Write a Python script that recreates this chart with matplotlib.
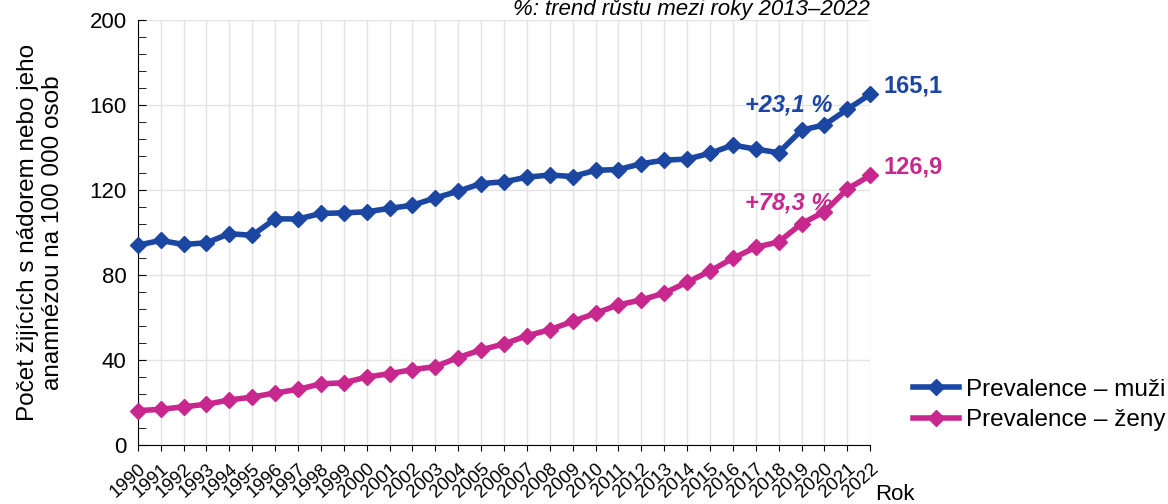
import matplotlib
matplotlib.use("Agg")
import matplotlib.pyplot as plt
from matplotlib.ticker import MultipleLocator

plt.rcParams['font.family'] = ['Liberation Sans', 'DejaVu Sans']

years = list(range(1990, 2023))
muzi = [94.1, 96.3, 94.4, 95.2, 99.5, 98.7, 106.5, 106.4, 109.0, 109.3, 109.8,
        111.4, 112.9, 116.3, 119.5, 123.1, 123.9, 126.1, 127.1, 126.4, 129.3,
        129.7, 132.4, 134.1, 134.6, 137.3, 141.2, 139.3, 137.6, 148.2, 150.7,
        158.0, 165.1]
zeny = [16.2, 16.8, 18.0, 19.2, 21.2, 22.6, 24.5, 26.2, 28.8, 29.3, 32.0,
        33.6, 35.5, 36.9, 41.2, 44.8, 47.6, 51.4, 54.3, 58.2, 62.0, 66.0,
        68.3, 71.5, 76.6, 81.9, 87.9, 93.1, 95.6, 104.2, 109.8, 120.5, 126.9]
labels = ["Prevalence – muži", "Prevalence – ženy"]
trend_muzi = "+23,1 %"
trend_zeny = "+78,3 %"
last_muzi = "165,1"
last_zeny = "126,9"
note = "%: trend růstu mezi roky 2013–2022"

blue = '#1b46a1'
pink = '#c8288e'

fig = plt.figure(figsize=(11.68, 5.04), dpi=100)
ax = fig.add_axes([0.118, 0.117, 0.627, 0.843])

ax.plot(years, muzi, color=blue, lw=4, marker='D', ms=8.5, clip_on=False,
        label=labels[0], zorder=3)
ax.plot(years, zeny, color=pink, lw=4, marker='D', ms=8.5, clip_on=False,
        label=labels[1], zorder=3)

ax.set_xlim(1990, 2022)
ax.set_ylim(0, 200)
ax.yaxis.set_major_locator(MultipleLocator(40))
ax.yaxis.set_minor_locator(MultipleLocator(8))
ax.set_xticks(years)
ax.set_xticklabels([str(y) for y in years], rotation=42, ha='right',
                   rotation_mode='anchor', fontsize=13.5)
ax.tick_params(axis='y', which='major', direction='in', length=6, labelsize=16, pad=8)
ax.tick_params(axis='y', which='minor', direction='in', length=6)
ax.tick_params(axis='x', direction='out', length=4, pad=7)

ax.grid(True, axis='both', which='major', color='#e3e3e3', lw=1)
ax.set_axisbelow(True)
for s in ['top', 'right']:
    ax.spines[s].set_visible(False)

ax.set_ylabel("Počet žijících s nádorem nebo jeho\nanamnézou na 100 000 osob",
              fontsize=17.5, linespacing=1.2, labelpad=18)

ax.text(832 / 1168, 1 - 105 / 504, trend_muzi, color=blue, fontsize=17,
        fontweight='bold', fontstyle='italic', ha='right', va='center',
        transform=fig.transFigure)
ax.text(832 / 1168, 1 - 203 / 504, trend_zeny, color=pink, fontsize=17,
        fontweight='bold', fontstyle='italic', ha='right', va='center',
        transform=fig.transFigure)
ax.text(2022.6, muzi[-1] + 4, last_muzi, color=blue, fontsize=17,
        fontweight='bold', ha='left', va='center')
ax.text(2022.6, zeny[-1] + 4, last_zeny, color=pink, fontsize=17,
        fontweight='bold', ha='left', va='center')

fig.text(870 / 1168, 1 - 15 / 504, note, fontsize=16, fontstyle='italic',
         ha='right', va='baseline')
fig.text(875 / 1168, 1 - 500 / 504, "Rok", fontsize=16, ha='left', va='baseline')

leg = ax.legend(loc='upper left', bbox_to_anchor=(908 / 1168, 1 - 374 / 504),
                bbox_transform=fig.transFigure, frameon=False, fontsize=17.5,
                handlelength=1.9, handletextpad=0.3, labelspacing=0.35,
                borderaxespad=0, borderpad=0.2)

fig.savefig("out.png", dpi=100)
